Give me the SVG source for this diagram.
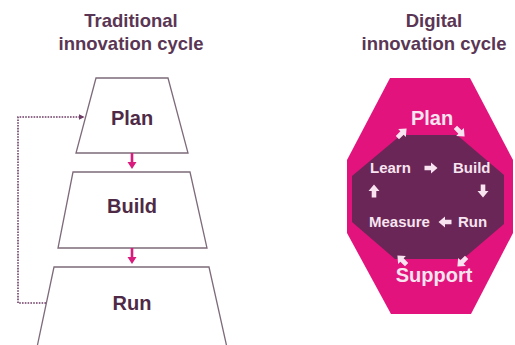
<svg xmlns="http://www.w3.org/2000/svg" width="515" height="345" viewBox="0 0 515 345">
  <style>
    .title { font-family: "Liberation Sans", Arial, sans-serif; font-weight: bold; font-size: 18.5px; fill: #5a3654; text-anchor: middle; }
    .stage { fill: #ffffff; stroke: #7d6b7a; stroke-width: 1.3; }
    .stage-label { font-family: "Liberation Sans", Arial, sans-serif; font-weight: bold; font-size: 20px; fill: #4e2a46; text-anchor: middle; }
    .cyc-big { font-family: "Liberation Sans", Arial, sans-serif; font-weight: bold; font-size: 20px; fill: #f7e4f0; text-anchor: middle; }
    .cyc { font-family: "Liberation Sans", Arial, sans-serif; font-weight: bold; font-size: 15px; fill: #f7e4f0; }
    .step { fill: #f7e4f0; }
    .flow { fill: #d81b7c; }
    .loop { fill: none; stroke: #6d3b64; stroke-width: 1.6; stroke-dasharray: 1.6 1.2; }
  </style>
  <defs>
    <!-- small block arrow pointing right, centred on the origin -->
    <path id="blk" d="M-6.5,-2.3 L0,-2.3 L0,-5.5 L6.5,0 L0,5.5 L0,2.3 L-6.5,2.3 Z"/>
    <!-- narrow downward arrow used between the stacked stages -->
    <path id="down" d="M-1.3,0 L1.3,0 L1.3,9 L4.5,9 L0,16 L-4.5,9 L-1.3,9 Z"/>
    <marker id="loopHead" viewBox="0 0 10 10" refX="9" refY="5" markerWidth="6" markerHeight="6" markerUnits="userSpaceOnUse" orient="auto">
      <path d="M0,0 L10,5 L0,10 Z" fill="#6d3b64"/>
    </marker>
  </defs>

  <!-- Titles -->
  <g id="title-traditional">
    <text class="title" x="131" y="27">Traditional</text>
    <text class="title" x="131" y="50">innovation cycle</text>
  </g>
  <g id="title-digital">
    <text class="title" x="434" y="27">Digital</text>
    <text class="title" x="434" y="50">innovation cycle</text>
  </g>

  <!-- Traditional cycle: stacked stages -->
  <g id="stage-plan">
    <polygon class="stage" points="96,78 168,78 188,153 76,153"/>
    <text class="stage-label" x="132" y="125">Plan</text>
  </g>
  <g id="stage-build">
    <polygon class="stage" points="73,172 190,172 207,248 58,248"/>
    <text class="stage-label" x="132" y="213">Build</text>
  </g>
  <g id="stage-run">
    <polygon class="stage" points="54,267 209,267 228,352 36,352"/>
    <text class="stage-label" x="132" y="310">Run</text>
  </g>

  <g id="connectors">
    <use href="#down" class="flow" x="132" y="153"/>
    <use href="#down" class="flow" x="132" y="248"/>
    <polyline class="loop" points="46,303 18,303 18,117 84,117" marker-end="url(#loopHead)"/>
  </g>

  <!-- Digital cycle -->
  <g id="digital-cycle">
    <polygon fill="#e2137c" points="390,78 470,78 513,160 513,233 471,314 391,314 347,233 347,160"/>
    <polygon fill="#6a2657" points="401,135 457,135 504,175 504,224 463,259 395,259 352,222 352,176"/>
  </g>

  <g id="node-plan"><text class="cyc-big" x="432" y="125">Plan</text></g>
  <g id="node-learn"><text class="cyc" x="370" y="173">Learn</text></g>
  <g id="node-build"><text class="cyc" x="453" y="173">Build</text></g>
  <g id="node-measure"><text class="cyc" x="369" y="227">Measure</text></g>
  <g id="node-run"><text class="cyc" x="458" y="227">Run</text></g>
  <g id="node-support"><text class="cyc-big" x="434" y="282">Support</text></g>

  <g id="cycle-arrows" class="step">
    <use href="#blk" transform="translate(431,168)"/>
    <use href="#blk" transform="translate(483,191) rotate(90)"/>
    <use href="#blk" transform="translate(445,222) rotate(180)"/>
    <use href="#blk" transform="translate(374,191) rotate(-90)"/>
    <use href="#blk" transform="translate(402,133) rotate(-45)"/>
    <use href="#blk" transform="translate(460,132) rotate(45)"/>
    <use href="#blk" transform="translate(462,262) rotate(135)"/>
    <use href="#blk" transform="translate(402,260) rotate(-135)"/>
  </g>
</svg>
